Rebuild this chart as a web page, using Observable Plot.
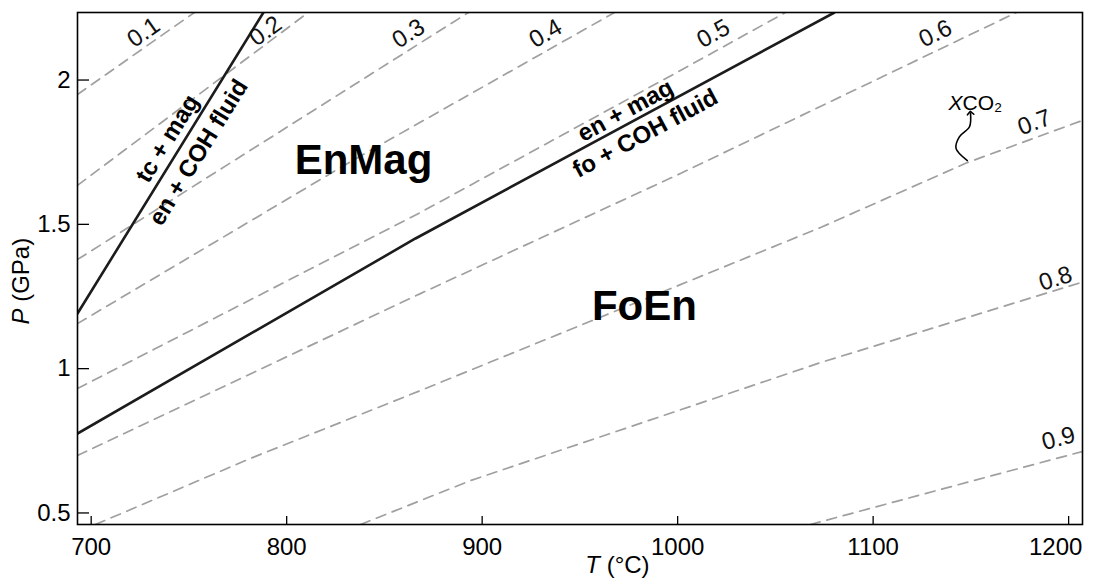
<!DOCTYPE html>
<html><head><meta charset="utf-8">
<script src="https://cdn.jsdelivr.net/npm/d3@7"></script>
<script src="https://cdn.jsdelivr.net/npm/@observablehq/plot@0.6"></script>
<style>html,body{margin:0;padding:0;background:#fff;} svg{display:block}</style>
</head><body><div id="chart"></div>
<script>
// Axis ticks
const xTicks = [700, 800, 900, 1000, 1100, 1200];
const yTicks = [0.5, 1, 1.5, 2];

// XCO2 isopleths (T in °C, P in GPa)
const isoLevels = ["0.1", "0.2", "0.3", "0.4", "0.5", "0.6", "0.7", "0.8", "0.9"];
const isoT = [
  [693, 752.8],
  [693, 811.0],
  [693, 893.0],
  [693, 831.1, 967.7],
  [693, 868.4, 1001.4, 1055.1],
  [693, 868.4, 1001.4, 1173.3],
  [702.2, 781.5, 868.4, 1073.1, 1148.2, 1207.1],
  [837.8, 894.0, 1073.1, 1207.1],
  [1067.9, 1151.3, 1207.1]
];
const isoP = [
  [1.950, 2.234],
  [1.635, 2.234],
  [1.378, 2.234],
  [1.156, 1.711, 2.234],
  [0.931, 1.541, 2.033, 2.234],
  [0.699, 1.260, 1.676, 2.234],
  [0.460, 0.689, 0.924, 1.489, 1.714, 1.860],
  [0.460, 0.612, 1.021, 1.300],
  [0.460, 0.612, 0.713]
];
// isopleth label positions and angles
const isoLabelT = [726.8, 789.2, 862.3, 932.4, 1018.3, 1131.9, 1182.5, 1193.3, 1194.8];
const isoLabelP = [2.165, 2.170, 2.161, 2.161, 2.161, 2.161, 1.853, 1.312, 0.758];
const isoLabelRot = [-35, -36, -32, -30, -29, -26, -20, -18, -15];

// Reaction boundaries (solid)
const boundNames = ["tc+mag = en+COH", "en+mag = fo+COH"];
const boundT = [[693, 788.1], [693, 865.9, 1080.2]];
const boundP = [[1.191, 2.234], [0.775, 1.451, 2.234]];

// Reaction labels
const reacText = ["tc + mag", "en + COH fluid", "en + mag", "fo + COH fluid"];
const reacT = [739.0, 754.9, 973.3, 983.5];
const reacP = [1.797, 1.749, 1.894, 1.815];
const reacRot = [-58.3, -58.3, -28.3, -28.3];

// Field labels
const fieldText = ["EnMag", "FoEn"];
const fieldT = [839.3, 983.0];
const fieldP = [1.721, 1.215];

// XCO2 arrow annotation
const arrowT = [1148.2, 1142.4, 1144.1, 1149.3, 1149.8];
const arrowP = [1.721, 1.763, 1.803, 1.838, 1.886];
const xco2T = 1145.7, xco2P = 1.921;

const font = "'Liberation Sans', Arial, Helvetica, sans-serif";

const isoRows = isoLevels.flatMap((lv, i) => isoT[i].map((t, j) => ({level: lv, T: t, P: isoP[i][j]})));
const isoLabelRows = isoLevels.map((lv, i) => ({text: lv, T: isoLabelT[i], P: isoLabelP[i], rot: isoLabelRot[i]}));
const boundRows = boundNames.flatMap((n, i) => boundT[i].map((t, j) => ({id: n, T: t, P: boundP[i][j]})));
const reacRows = reacText.map((s, i) => ({text: s, T: reacT[i], P: reacP[i], rot: reacRot[i]}));
const fieldRows = fieldText.map((s, i) => ({text: s, T: fieldT[i], P: fieldP[i]}));
const arrowRows = arrowT.map((t, i) => ({T: t, P: arrowP[i]}));

const chart = Plot.plot({
  width: 1094,
  height: 586,
  marginLeft: 77,
  marginRight: 12,
  marginTop: 12,
  marginBottom: 62,
  style: {fontFamily: font, background: "#fff", color: "#000"},
  x: {domain: [693, 1207.1]},
  y: {domain: [0.46, 2.234]},
  marks: [
    Plot.line(isoRows, {x: "T", y: "P", z: "level", stroke: "#a0a0a0", strokeWidth: 1.7, strokeDasharray: "10,7", clip: true}),
    Plot.line(boundRows, {x: "T", y: "P", z: "id", stroke: "#1c1c1c", strokeWidth: 2.6, clip: true}),
    Plot.text(isoLabelRows, {x: "T", y: "P", text: "text", rotate: "rot", fontSize: 24, fill: "#111"}),
    Plot.text(reacRows, {x: "T", y: "P", text: "text", rotate: "rot", fontSize: 24, fontWeight: "bold", fill: "#000"}),
    Plot.text(fieldRows, {x: "T", y: "P", text: "text", fontSize: 42, fontWeight: "bold", fill: "#000"}),
    Plot.line(arrowRows, {x: "T", y: "P", curve: "catmull-rom", stroke: "#000", strokeWidth: 1.6, markerEnd: "arrow"}),
    Plot.text(["X"], {x: () => xco2T, y: () => xco2P, text: d => d, fontStyle: "italic", textAnchor: "end", fontSize: 21}),
    Plot.text(["CO\u2082"], {x: () => xco2T, y: () => xco2P, text: d => d, textAnchor: "start", fontSize: 21}),
    Plot.axisX({ticks: xTicks, tickFormat: d => String(d), tickSize: -8, tickPadding: 21, fontSize: 24, label: null, strokeWidth: 1.3}),
    Plot.axisY({ticks: yTicks, tickFormat: d => String(d), tickSize: -12, tickPadding: 19, fontSize: 24, label: null, strokeWidth: 1.3}),
    Plot.text(["T"], {frameAnchor: "bottom", text: d => d, fontStyle: "italic", textAnchor: "end", fontSize: 24, dx: 20, dy: 48}),
    Plot.text([" (°C)"], {frameAnchor: "bottom", text: d => d, textAnchor: "start", fontSize: 24, dx: 20, dy: 48}),
    Plot.text(["P"], {frameAnchor: "left", text: d => d, fontStyle: "italic", textAnchor: "end", rotate: -90, fontSize: 24, dx: -56, dy: 40}),
    Plot.text([" (GPa)"], {frameAnchor: "left", text: d => d, textAnchor: "start", rotate: -90, fontSize: 24, dx: -56, dy: 40}),
    Plot.frame({stroke: "#000", strokeWidth: 1.6})
  ]
});
document.getElementById("chart").appendChild(chart);
// nudge the last x tick label inward as in the original
chart.querySelectorAll("text").forEach(t => {
  if (t.textContent === "1200") {
    const tr = t.getAttribute("transform") || "";
    t.setAttribute("transform", tr + " translate(-13,0)");
  }
});
</script>
</body></html>
